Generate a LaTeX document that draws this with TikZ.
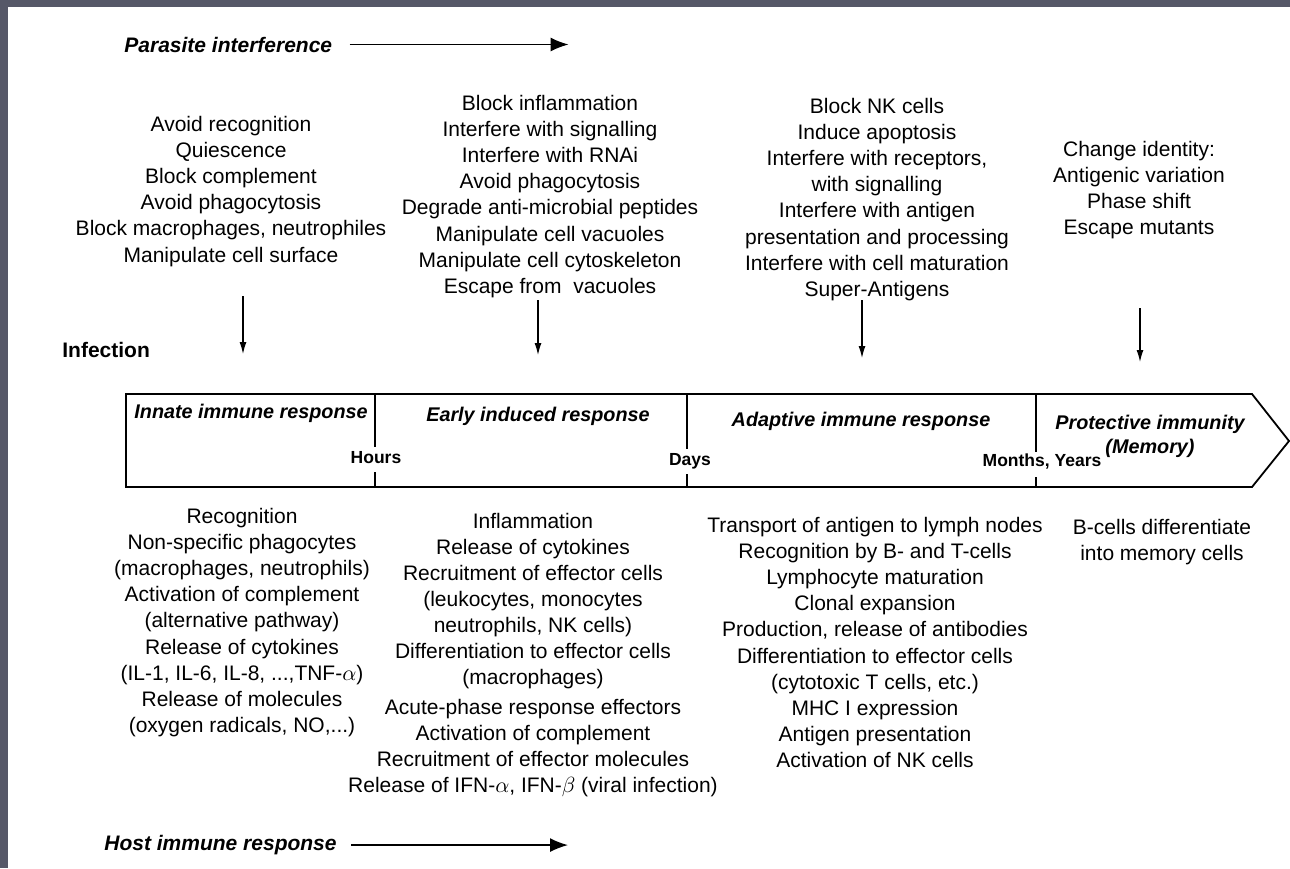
\documentclass[tikz,border=0pt]{standalone}
\usepackage{fontspec}
\setmainfont{Liberation Sans}
\usepackage{amsmath}
\usetikzlibrary{arrows.meta}

\definecolor{framegray}{RGB}{86,88,104}

\tikzset{
  txt/.style={align=center,inner sep=0pt,anchor=north,font=\fontsize{10.5}{13.1}\selectfont},
  headline/.style={inner sep=0pt,font=\fontsize{10.5}{13}\selectfont\bfseries\itshape},
  phase/.style={inner sep=0pt,align=center,font=\fontsize{9.9}{12}\selectfont\bfseries\itshape},
  timemark/.style={inner sep=0pt,font=\fontsize{8.75}{10}\selectfont\bfseries},
  harr/.style={line width=0.8pt,-{Latex[length=9pt,width=7pt]}},
  darr/.style={line width=0.6pt,-{Latex[length=6pt,width=3.5pt]}},
  box/.style={line width=0.9pt,line join=miter}
}

\begin{document}
\begin{tikzpicture}[x=0.5pt,y=-0.5pt]
\useasboundingbox (0,0) rectangle (1290,868);
\fill[white] (0,0) rectangle (1290,868);
\fill[framegray] (0,0) rectangle (1290,7);
\fill[framegray] (0,0) rectangle (8,868);

% parasite side
\node[headline,anchor=base west] (parasite) at (124,52) {Parasite interference};
\draw[harr] (parasite.east) ++(17,0) -- ++(219,0);

\node[txt] (avoid) at (231,115.5) {Avoid recognition\\Quiescence\\Block complement\\Avoid phagocytosis\\
Block macrophages, neutrophiles\\Manipulate cell surface};
\node[txt] (blockinf) at (550,94.5) {Block inflammation\\Interfere with signalling\\Interfere with RNAi\\
Avoid phagocytosis\\Degrade anti-microbial peptides\\Manipulate cell vacuoles\\
Manipulate cell cytoskeleton\\Escape from \ vacuoles};
\node[txt] (blocknk) at (877,97.5) {Block NK cells\\Induce apoptosis\\Interfere with receptors,\\
with signalling\\Interfere with antigen\\presentation and processing\\
Interfere with cell maturation\\Super-Antigens};
\node[txt] (identity) at (1139,140.5) {Change identity:\\Antigenic variation\\Phase shift\\Escape mutants};

\foreach \n/\x/\a/\b in {1/243/296/354, 2/538/300/355, 3/862/300/358, 4/1140/308/362}{
  \coordinate (hit\n) at (\x,\b);
  \draw[darr] (\x,\a) -- (hit\n);
}

\node[inner sep=0pt,anchor=west,font=\fontsize{10.5}{13}\selectfont\bfseries] (infection) at (62,350) {Infection};

% time line
\draw[box] (126,394) -- (1252,394) -- (1289,441) -- (1252,487) -- (126,487) -- cycle;
\foreach \x/\a/\b in {375/447/472, 687/449/474, 1036/452/477}
  \draw[box] (\x,394) -- (\x,\a) (\x,\b) -- (\x,487);

\node[phase,anchor=west] (innate) at (134,413) {Innate immune response};
\node[phase] (early) at (538,416) {Early induced response};
\node[phase] (adaptive) at (861,421) {Adaptive immune response};
\node[phase,anchor=north] (protect) at (1150,415) {Protective immunity\\(Memory)};

\node[timemark] (hours) at (376,458) {Hours};
\node[timemark] (days) at (690,461) {Days};
\node[timemark] (months) at (1042,462) {Months, Years};

% host side
\node[txt] (recog) at (242,507.5) {Recognition\\Non-specific phagocytes\\(macrophages, neutrophils)\\
Activation of complement\\(alternative pathway)\\Release of cytokines\\
(IL-1, IL-6, IL-8, ...,TNF-$\alpha$)\\Release of molecules\\(oxygen radicals, NO,...)};
\node[txt,font=\fontsize{10.5}{13}\selectfont] (inflam) at (533,512.5) {Inflammation\\Release of cytokines\\
Recruitment of effector cells\\(leukocytes, monocytes\\neutrophils, NK cells)\\
Differentiation to effector cells\\(macrophages)\\[2pt]Acute-phase response effectors\\
Activation of complement\\Recruitment of effector molecules\\
Release of IFN-$\alpha$, IFN-$\beta$ (viral infection)};
\node[txt] (transport) at (875,516.5) {Transport of antigen to lymph nodes\\Recognition by B- and T-cells\\
Lymphocyte maturation\\Clonal expansion\\Production, release of antibodies\\
Differentiation to effector cells\\(cytotoxic T cells, etc.)\\MHC I expression\\
Antigen presentation\\Activation of NK cells};
\node[txt] (memcells) at (1162,518.5) {B-cells differentiate\\into memory cells};

\node[headline,anchor=base west] (host) at (104,850.5) {Host immune response};
\draw[harr] (host.east) ++(14,0) -- ++(217,0);
\end{tikzpicture}
\end{document}
